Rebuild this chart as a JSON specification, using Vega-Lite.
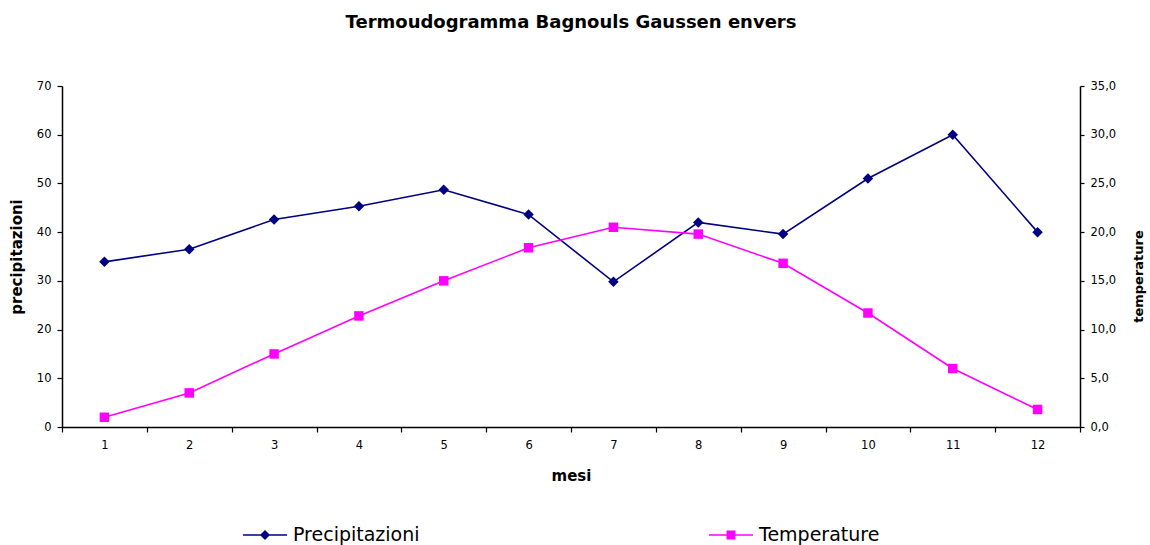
{
  "$schema": "https://vega.github.io/schema/vega-lite/v6.json",
  "autosize": {"type": "none"},
  "width": 1018,
  "height": 341,
  "padding": {"left": 62, "top": 86, "right": 70, "bottom": 118},
  "background": "white",
  "config": {
    "font": "DejaVu Sans",
    "view": {"stroke": null},
    "axis": {"labelFont": "DejaVu Sans", "titleFont": "DejaVu Sans", "labelColor": "#000000", "titleColor": "#000000", "domainColor": "#000000", "tickColor": "#000000", "grid": false, "labelFontSize": 11.5, "titleFontSize": 15, "titleFontWeight": "bold", "domainWidth": 1.5, "tickWidth": 1.2}
  },
  "title": {"text": "Termoudogramma Bagnouls Gaussen envers", "fontSize": 18, "fontWeight": "bold", "font": "DejaVu Sans", "color": "#000000", "anchor": "middle", "offset": 48},
  "data": {"values": [
    {"mese": 1, "Precipitazioni": 33.9, "Temperature": 1.0},
    {"mese": 2, "Precipitazioni": 36.5, "Temperature": 3.5},
    {"mese": 3, "Precipitazioni": 42.6, "Temperature": 7.5},
    {"mese": 4, "Precipitazioni": 45.3, "Temperature": 11.4},
    {"mese": 5, "Precipitazioni": 48.7, "Temperature": 15.0},
    {"mese": 6, "Precipitazioni": 43.6, "Temperature": 18.4},
    {"mese": 7, "Precipitazioni": 29.8, "Temperature": 20.5},
    {"mese": 8, "Precipitazioni": 42.0, "Temperature": 19.8},
    {"mese": 9, "Precipitazioni": 39.6, "Temperature": 16.8},
    {"mese": 10, "Precipitazioni": 51.0, "Temperature": 11.7},
    {"mese": 11, "Precipitazioni": 60.0, "Temperature": 6.0},
    {"mese": 12, "Precipitazioni": 40.0, "Temperature": 1.8}
  ]},
  "encoding": {
    "x": {"field": "mese", "type": "ordinal", "scale": {"type": "band", "paddingInner": 0, "paddingOuter": 0},
      "axis": {"title": "mesi", "labelAngle": 0, "tickBand": "extent", "tickSize": 5, "labelPadding": 7, "titlePadding": 18, "titleFontSize": 15}}
  },
  "layer": [
    {
      "layer": [
        {"mark": {"type": "line", "strokeWidth": 1.6},
         "encoding": {
           "y": {"field": "Precipitazioni", "type": "quantitative", "scale": {"domain": [0, 70]},
             "axis": {"title": "precipitazioni", "values": [0, 10, 20, 30, 40, 50, 60, 70], "tickSize": 5, "labelPadding": 6, "titlePadding": 12, "titleFontSize": 15}},
           "color": {"datum": "Precipitazioni", "type": "nominal",
             "scale": {"domain": ["Precipitazioni", "Temperature"], "range": ["#000080", "#FF00FF"]},
             "legend": {"title": null, "orient": "none", "legendX": 180, "legendY": 426, "direction": "horizontal", "columns": 2, "columnPadding": 286, "padding": 0, "symbolSize": 1936, "labelFontSize": 19, "labelFont": "DejaVu Sans", "labelColor": "#000000", "labelOffset": 5, "labelLimit": 300,
               "encode": {
                 "symbols": {"update": {
                   "shape": {"signal": "datum.value === 'Precipitazioni' ? 'M-1,0L1,0M0,-0.18L0.18,0L0,0.18L-0.18,0Z' : 'M-1,0L1,0M-0.17,-0.17L0.17,-0.17L0.17,0.17L-0.17,0.17Z'"},
                   "fill": {"signal": "datum.value === 'Precipitazioni' ? '#000080' : '#FF00FF'"},
                   "stroke": {"signal": "datum.value === 'Precipitazioni' ? '#000080' : '#FF00FF'"},
                   "strokeWidth": {"value": 1.5},
                   "opacity": {"value": 1}
                 }}
               }}}
         }},
        {"mark": {"type": "point", "shape": "diamond", "filled": true, "size": 110, "opacity": 1},
         "encoding": {
           "y": {"field": "Precipitazioni", "type": "quantitative"},
           "color": {"datum": "Precipitazioni", "type": "nominal"}
         }}
      ]
    },
    {
      "layer": [
        {"mark": {"type": "line", "strokeWidth": 1.6},
         "encoding": {
           "y": {"field": "Temperature", "type": "quantitative", "scale": {"domain": [0, 35]},
             "axis": {"orient": "right", "title": "temperature", "titleAngle": 270, "titleFontSize": 13, "titleY": 190, "values": [0, 5, 10, 15, 20, 25, 30, 35], "labelExpr": "replace(format(datum.value, '.1f'), '.', ',')", "tickSize": 4, "labelPadding": 6, "titlePadding": 30,
               "encode": {"ticks": {"update": {"x": {"value": -4}, "x2": {"value": 4}}}}}},
           "color": {"datum": "Temperature", "type": "nominal"}
         }},
        {"mark": {"type": "point", "shape": "square", "filled": true, "size": 90, "opacity": 1},
         "encoding": {
           "y": {"field": "Temperature", "type": "quantitative"},
           "color": {"datum": "Temperature", "type": "nominal"}
         }}
      ]
    }
  ],
  "resolve": {"scale": {"y": "independent"}}
}
